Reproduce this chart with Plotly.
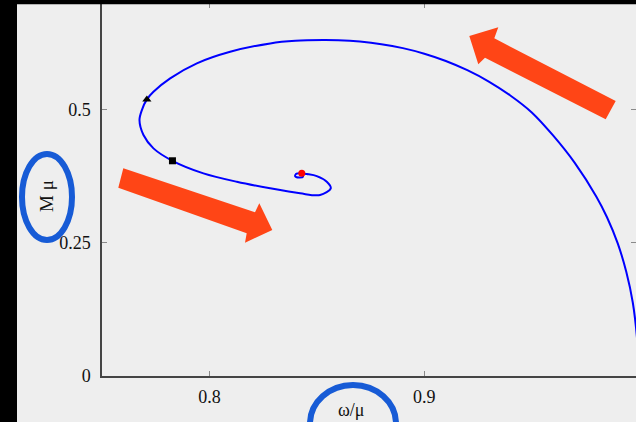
import plotly.graph_objects as go

# Mass of the boson-star family as a function of the frequency, M(omega),
# listed from the Newtonian end (omega -> 1) into the inner spiral
omega = [1.0, 0.999, 0.997, 0.994, 0.99, 0.985, 0.98, 0.97, 0.96, 0.95,
         0.94, 0.93, 0.92, 0.91, 0.90, 0.89, 0.88, 0.87, 0.86, 0.8529,
         0.84, 0.82828, 0.80963, 0.79414, 0.78172, 0.77395, 0.77088,
         0.76856, 0.76744, 0.76930, 0.77395, 0.78279, 0.79721, 0.81274,
         0.82823, 0.84219, 0.85149, 0.85647, 0.85460, 0.84995, 0.84530,
         0.84298, 0.84056, 0.83986, 0.84172, 0.84358, 0.84312]
mass = [0.0, 0.070, 0.138, 0.195, 0.249, 0.298, 0.337, 0.400, 0.451, 0.4947,
        0.5265, 0.5526, 0.5739, 0.5912, 0.6049, 0.6153, 0.6228, 0.6276, 0.6300,
        0.6304, 0.6290, 0.6242, 0.6084, 0.5867, 0.5585, 0.5334, 0.5191,
        0.4991, 0.4803, 0.4522, 0.4272, 0.4039, 0.3803, 0.3645,
        0.3522, 0.3428, 0.3396, 0.3522, 0.3645, 0.3752, 0.3790,
        0.3803, 0.3799, 0.3752, 0.3724, 0.3743, 0.3771]

# Special configurations along the branch
tri_pt = (0.77088, 0.5191)
sq_pt = (0.78279, 0.4039)
dot_pt = (0.84298, 0.3803)

x_range = [0.75, 0.9985]
y_range = [0.0, 0.7]
x_ticks = [0.8, 0.9]
y_ticks = [0, 0.25, 0.5]
x_ticktext = ["0.8", "0.9"]
y_ticktext = ["0", "0.25", "0.5"]

W, H = 636, 422
L, R, T, B = 102, 0, 3, 46
PW, PH = W - L - R, H - T - B


def px(xp):
    return (xp - L) / PW


def py(yp):
    return (H - B - yp) / PH


def path(points):
    return "M " + " L ".join(f"{px(a):.5f},{py(b):.5f}" for a, b in points) + " Z"


FONT = "'Liberation Serif', 'Times New Roman', Times, serif"
BG = "#eeeeee"
ORANGE = "#ff4516"
RING = "#175bd6"

fig = go.Figure()
fig.add_trace(go.Scatter(x=omega, y=mass, mode="lines",
                         line=dict(color="#0000ff", width=2, shape="spline",
                                   smoothing=0.9),
                         showlegend=False))
fig.add_trace(go.Scatter(x=[tri_pt[0]], y=[tri_pt[1]], mode="markers",
                         marker=dict(symbol="triangle-up", size=8, color="black"),
                         showlegend=False))
fig.add_trace(go.Scatter(x=[sq_pt[0]], y=[sq_pt[1]], mode="markers",
                         marker=dict(symbol="square", size=7, color="black"),
                         showlegend=False))
fig.add_trace(go.Scatter(x=[dot_pt[0]], y=[dot_pt[1]], mode="markers",
                         marker=dict(symbol="circle", size=7, color="red"),
                         showlegend=False))
# carrier for the mirrored tick axes
fig.add_trace(go.Scatter(x=[None], y=[None], xaxis="x2", yaxis="y2",
                         showlegend=False, hoverinfo="skip"))

axis_common = dict(ticks="inside", ticklen=5, tickwidth=1, tickcolor="#8a8a8a",
                   showgrid=False, zeroline=False,
                   tickfont=dict(family=FONT, size=18, color="#111111"))

fig.update_layout(
    width=W, height=H,
    margin=dict(l=L, r=R, t=T, b=B, pad=0),
    paper_bgcolor=BG, plot_bgcolor=BG,
    font=dict(family=FONT),
    xaxis=dict(range=x_range, tickvals=x_ticks, ticktext=x_ticktext,
               showline=True, linecolor="#444444", linewidth=1.5,
               ticklabelstandoff=4, **axis_common),
    yaxis=dict(range=y_range, tickvals=y_ticks, ticktext=y_ticktext,
               showline=True, linecolor="#444444", linewidth=1.5,
               ticklabelstandoff=6, **axis_common),
    xaxis2=dict(range=x_range, tickvals=x_ticks, overlaying="x", side="top",
                showline=False, showticklabels=False, anchor="y",
                ticks="inside", ticklen=5, tickcolor="#8a8a8a",
                showgrid=False, zeroline=False),
    yaxis2=dict(range=y_range, tickvals=y_ticks, overlaying="y", side="right",
                showline=False, showticklabels=False, anchor="x",
                ticks="inside", ticklen=5, tickcolor="#8a8a8a",
                showgrid=False, zeroline=False),
)

# axis titles
fig.add_annotation(x=px(351), y=py(410), xref="paper", yref="paper",
                   xanchor="center", yanchor="middle",
                   text="ω/μ", showarrow=False,
                   font=dict(family=FONT, size=18, color="#111111"))
fig.add_annotation(x=px(46), y=py(196), xref="paper", yref="paper",
                   xanchor="center", yanchor="middle",
                   text="M μ", textangle=-90, showarrow=False,
                   font=dict(family=FONT, size=19, color="#111111"))

shapes = []
# dark frame bands
shapes.append(dict(type="rect", xref="paper", yref="paper",
                   x0=px(0), x1=px(17), y0=py(H + 2), y1=py(-2),
                   fillcolor="black", line=dict(width=0), layer="above"))
shapes.append(dict(type="rect", xref="paper", yref="paper",
                   x0=px(0), x1=px(W + 2), y0=py(4.3), y1=py(-2),
                   fillcolor="black", line=dict(width=0), layer="above"))
# rings around the axis titles
shapes.append(dict(type="circle", xref="paper", yref="paper",
                   x0=px(22), x1=px(72), y0=py(240), y1=py(154),
                   line=dict(color=RING, width=6), layer="above"))
shapes.append(dict(type="circle", xref="paper", yref="paper",
                   x0=px(310), x1=px(396), y0=py(462), y1=py(385),
                   line=dict(color=RING, width=6), layer="above"))
# direction arrows
arrow_down = [(123.3, 168.3), (255, 212.3), (259.3, 203.3), (272.3, 230),
              (245, 242.7), (246.7, 233.3), (118.3, 187.7)]
arrow_up = [(615.7, 101), (494.3, 38.3), (498.3, 27.3), (469.3, 36),
            (478.3, 64.3), (485, 57.7), (605.7, 119.3)]
for pts in (arrow_down, arrow_up):
    shapes.append(dict(type="path", xref="paper", yref="paper", path=path(pts),
                       fillcolor=ORANGE, line=dict(width=0), layer="above"))
fig.update_layout(shapes=shapes)

fig.write_html("out.html")
